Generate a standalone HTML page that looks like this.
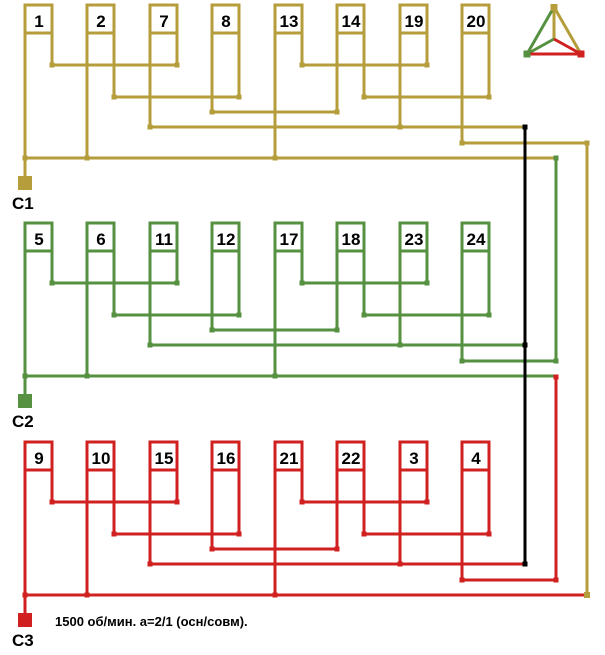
<!DOCTYPE html>
<html><head><meta charset="utf-8"><style>
html,body{margin:0;padding:0;background:#fff;width:605px;height:655px;overflow:hidden}
svg{display:block}
text{font-family:"Liberation Sans",sans-serif;font-weight:bold;fill:#000}
</style></head><body>
<svg id="s" width="605" height="655" viewBox="0 0 605 655" xmlns="http://www.w3.org/2000/svg">
<g id="lines"></g>
<g font-size="17" text-anchor="middle">
<text x="39" y="27">1</text><text x="101" y="27">2</text><text x="164" y="27">7</text><text x="226" y="27">8</text>
<text x="289" y="27">13</text><text x="351" y="27">14</text><text x="414" y="27">19</text><text x="476" y="27">20</text>
<text x="39" y="245">5</text><text x="101" y="245">6</text><text x="164" y="245">11</text><text x="226" y="245">12</text>
<text x="289" y="245">17</text><text x="351" y="245">18</text><text x="414" y="245">23</text><text x="476" y="245">24</text>
<text x="39" y="464">9</text><text x="101" y="464">10</text><text x="164" y="464">15</text><text x="226" y="464">16</text>
<text x="289" y="464">21</text><text x="351" y="464">22</text><text x="414" y="464">3</text><text x="476" y="464">4</text>
</g>
<g font-size="17">
<text x="12" y="209">C1</text><text x="12" y="427">C2</text><text x="12" y="646">C3</text>
</g>
<text x="55" y="626" font-size="13">1500 об/мин. а=2/1 (осн/совм).</text>
</svg>
<script>
(function(){
var g=document.getElementById('lines'),NS='http://www.w3.org/2000/svg';
function ln(x1,y1,x2,y2,c,w){var e=document.createElementNS(NS,'line');e.setAttribute('x1',x1);e.setAttribute('y1',y1);e.setAttribute('x2',x2);e.setAttribute('y2',y2);e.setAttribute('stroke',c);e.setAttribute('stroke-width',w||3);g.appendChild(e);}
function dot(x,y,c,s){s=s||5;var e=document.createElementNS(NS,'rect');e.setAttribute('x',x-s/2);e.setAttribute('y',y-s/2);e.setAttribute('width',s);e.setAttribute('height',s);e.setAttribute('fill',c);g.appendChild(e);}
function rect(x,y,w,h,c){var e=document.createElementNS(NS,'rect');e.setAttribute('x',x);e.setAttribute('y',y);e.setAttribute('width',w);e.setAttribute('height',h);e.setAttribute('fill',c);g.appendChild(e);}
var L=[],R=[];for(var i=0;i<8;i++){L[i]=Math.round(25+62.45*i);R[i]=L[i]+27;}
var cols=['#b59d3c','#559140','#d02020'];
for(var k=0;k<3;k++){
 var o=[0,218,437][k],c=cols[k];
 var top=5+o,lab=33+o;
 function v(x,y2){ln(x,top,x,y2,c);}
 // coil outlines
 for(var i=0;i<8;i++){ln(L[i]-1.5,top,R[i]+1.5,top,c);ln(L[i],lab,R[i],lab,c);}
 var y65=65+o,y97=97+o,y112=112+o,y127=127+o,y143=143+o,y158=158+o;
 v(R[0],y65);v(R[2],y65);ln(R[0],y65,R[2],y65,c);dot(R[0],y65,c);dot(R[2],y65,c);
 v(R[4],y65);v(R[6],y65);ln(R[4],y65,R[6],y65,c);dot(R[4],y65,c);dot(R[6],y65,c);
 v(R[1],y97);v(R[3],y97);ln(R[1],y97,R[3],y97,c);dot(R[1],y97,c);dot(R[3],y97,c);
 v(R[5],y97);v(R[7],y97);ln(R[5],y97,R[7],y97,c);dot(R[5],y97,c);dot(R[7],y97,c);
 v(L[3],y112);v(L[5],y112);ln(L[3],y112,L[5],y112,c);dot(L[3],y112,c);dot(L[5],y112,c);
 v(L[2],y127);v(L[6],y127);ln(L[2],y127,525,y127,c);dot(L[2],y127,c);dot(L[6],y127,c);
 v(L[7],y143);dot(L[7],y143,c);
 if(k==0){ln(L[7],y143,587,y143,c);}else{ln(L[7],y143,556,y143,c);}
 v(L[0],y158);v(L[1],y158);v(L[4],y158);ln(L[0],y158,556,y158,c);
 dot(L[0],y158,c);dot(L[1],y158,c);dot(L[4],y158,c);
 ln(L[0],y158,L[0],176+o,c);rect(L[0]-7,176+o,14,14,c);
}
// right column connections
ln(587,143,587,595,cols[0]);dot(587,143,cols[0]);
ln(556,158,556,361,cols[1]);dot(556,158,cols[1]);dot(556,361,cols[1]);
ln(556,377,556,580,cols[2]);dot(556,377,cols[2]);dot(556,580,cols[2]);
ln(25,595,587,595,cols[2]);dot(587,595,cols[0],6);
ln(525,127,525,564,'#000',3);dot(525,127,'#000');dot(525,345,'#000');dot(525,564,'#000');
// triangle icon
var T=[554,7],A=[527,54],B=[581,54],C=[554,39];
ln(T[0],T[1],C[0],C[1],cols[0]);ln(T[0],T[1],B[0],B[1],cols[0]);
ln(T[0],T[1],A[0],A[1],cols[1]);ln(C[0],C[1],A[0],A[1],cols[1]);
ln(C[0],C[1],B[0],B[1],cols[2]);ln(A[0],A[1],B[0],B[1],cols[2]);
rect(T[0]-3.5,T[1]-3,7,7,cols[0]);rect(A[0]-3.5,A[1]-3.5,7,7,cols[1]);rect(B[0]-3.5,B[1]-3.5,7,7,cols[2]);
})();
</script>
</body></html>
